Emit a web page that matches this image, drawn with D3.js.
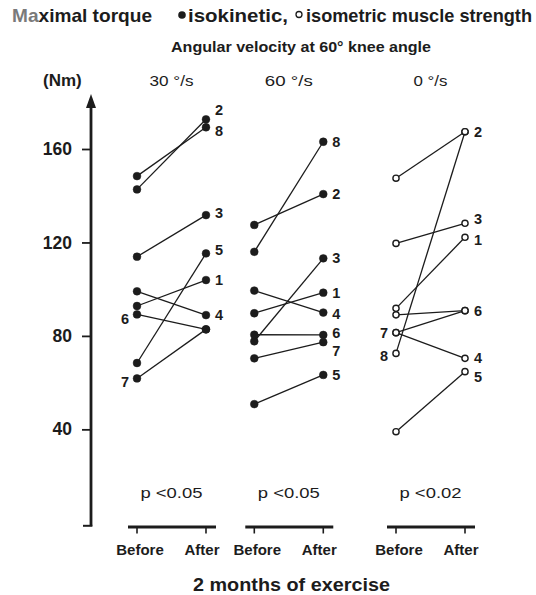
<!DOCTYPE html>
<html><head><meta charset="utf-8">
<script src="https://cdn.jsdelivr.net/npm/d3@7"></script>
<style>
body{margin:0;background:#fff;}
text{font-family:"Liberation Sans",Arial,Helvetica,sans-serif;fill:#1c1c1c;}
</style>
</head><body>
<svg id="chart" width="536" height="595"></svg>
<script>
// ---------- data ----------
const subjects = [1, 2, 3, 4, 5, 6, 7, 8];
const panelTitles = ["30 °/s", "60 °/s", "0 °/s"];
const pValues = ["p <0.05", "p <0.05", "p <0.02"];
const phases = ["Before", "After"];
const before30 = [92.8, 142.7, 113.9, 99.1, 68.4, 89.2, 61.8, 148.4];
const after30  = [103.9, 172.7, 131.7, 88.9, 115.3, 82.8, 82.8, 169.3];
const before60 = [89.7, 127.5, 77.7, 99.4, 50.8, 80.5, 70.4, 116.0];
const after60  = [98.5, 140.7, 113.2, 90.0, 63.3, 80.4, 77.3, 163.1];
const before0  = [91.8, 147.5, 119.6, 81.4, 39.0, 89.0, 81.4, 72.5];
const after0   = [122.2, 167.4, 128.2, 70.4, 64.7, 90.8, 90.8, 167.4];
const markerKinds = ["filled", "filled", "open"];
const beforeSideLabels = [[6, 7], [], [7, 8]];
const yTicks = [40, 80, 120, 160];

const panelData = [
  {before: before30, after: after30},
  {before: before60, after: after60},
  {before: before0,  after: after0}
];

// ---------- layout ----------
const svg = d3.select("#chart");
const panelSlot = [0, 1.7, 3.754];
const x = d3.scaleLinear().domain([0, 4.754]).range([137, 465]);
const y = d3.scaleLinear().domain([0, 160]).range([522.8, 149]);
const ink = "#1c1c1c";
const labelNudge = {"0-2": -9, "0-8": 4, "0-3": -2, "0-5": -3, "0-6": 5, "0-7": 4,
                    "1-7": 9, "1-6": -2, "1-4": 1,
                    "2-3": -4, "2-1": 3, "2-5": 5, "2-8": 3};

// ---------- header ----------
const title = svg.append("text").attr("x", 12).attr("y", 21.5)
  .attr("font-size", 18.5).attr("font-weight", "bold")
  .attr("textLength", 140).attr("lengthAdjust", "spacingAndGlyphs");
title.append("tspan").attr("fill", "#7a7a7a").style("fill", "#7a7a7a").text("Ma");
title.append("tspan").text("ximal torque");

svg.append("circle").attr("cx", 182).attr("cy", 15).attr("r", 3.8).attr("fill", ink);
svg.append("text").attr("x", 188).attr("y", 21.5).attr("font-size", 18.5).attr("font-weight", "bold")
  .attr("textLength", 100).attr("lengthAdjust", "spacingAndGlyphs").text("isokinetic,");
svg.append("circle").attr("cx", 299).attr("cy", 14.5).attr("r", 3).attr("fill", "#fff")
  .attr("stroke", ink).attr("stroke-width", 1.3);
svg.append("text").attr("x", 306).attr("y", 21.5).attr("font-size", 18.5).attr("font-weight", "bold")
  .attr("textLength", 226).attr("lengthAdjust", "spacingAndGlyphs").text("isometric muscle strength");

svg.append("text").attr("x", 171).attr("y", 51.5).attr("font-size", 14.5).attr("font-weight", "bold")
  .attr("textLength", 260).attr("lengthAdjust", "spacingAndGlyphs")
  .text("Angular velocity at 60° knee angle");

svg.append("text").attr("x", 43).attr("y", 86).attr("font-size", 17).attr("font-weight", "bold")
  .text("(Nm)");

const titleWidths = [44, 48, 34];
panelTitles.forEach((t, i) => {
  const cx = (x(panelSlot[i]) + x(panelSlot[i] + 1)) / 2;
  svg.append("text").attr("x", cx - titleWidths[i] / 2).attr("y", 86)
    .attr("font-size", 14.5).attr("textLength", titleWidths[i])
    .attr("lengthAdjust", "spacingAndGlyphs").text(t);
});

// ---------- y axis ----------
const axisG = svg.append("g").attr("transform", "translate(91,0)")
  .call(d3.axisLeft(y).tickValues(yTicks).tickSize(9).tickPadding(10));
axisG.select(".domain").remove();
axisG.selectAll(".tick line").attr("stroke", ink).attr("stroke-width", 1.8);
axisG.selectAll(".tick text").attr("font-size", 17.5).attr("font-weight", "bold")
  .attr("fill", ink).attr("font-family", "Liberation Sans, Arial, sans-serif");

axisG.append("line").attr("x1", 0).attr("x2", 0).attr("y1", y(0) + 3).attr("y2", 104)
  .attr("stroke", ink).attr("stroke-width", 2.8);
axisG.append("path").attr("d", "M0,94 L-5,108 L5,108 Z").attr("fill", ink);
axisG.append("line").attr("x1", -8).attr("x2", 1.4).attr("y1", y(0) + 3).attr("y2", y(0) + 3)
  .attr("stroke", ink).attr("stroke-width", 2);

// ---------- panels ----------
panelData.forEach((pd, p) => {
  const xb = x(panelSlot[p]), xa = x(panelSlot[p] + 1);
  const g = svg.append("g");
  const rows = subjects.map((s, i) => ({s, b: pd.before[i], a: pd.after[i]}));

  g.selectAll("line.conn").data(rows).enter().append("line")
    .attr("x1", xb).attr("x2", xa)
    .attr("y1", d => y(d.b)).attr("y2", d => y(d.a))
    .attr("stroke", ink).attr("stroke-width", 1.3);

  const pts = rows.flatMap(d => [{x: xb, v: d.b}, {x: xa, v: d.a}]);
  const filled = markerKinds[p] === "filled";
  g.selectAll("circle").data(pts).enter().append("circle")
    .attr("cx", d => d.x).attr("cy", d => y(d.v))
    .attr("r", filled ? 3.9 : 3.1)
    .attr("fill", filled ? ink : "#fff")
    .attr("stroke", ink).attr("stroke-width", filled ? 0.5 : 1.4);

  rows.forEach(d => {
    const onBefore = beforeSideLabels[p].includes(d.s);
    const nudge = labelNudge[p + "-" + d.s] || 0;
    g.append("text")
      .attr("x", onBefore ? xb - 8 : xa + 9)
      .attr("y", y(onBefore ? d.b : d.a) + 5 + nudge)
      .attr("text-anchor", onBefore ? "end" : "start")
      .attr("font-size", 14.5).attr("font-weight", "bold")
      .text(d.s);
  });

  // p-value
  svg.append("text").attr("x", (xb + xa) / 2 - 31).attr("y", 497.5)
    .attr("font-size", 15).attr("textLength", 62).attr("lengthAdjust", "spacingAndGlyphs")
    .text(pValues[p]);

  // bracket
  svg.append("line").attr("x1", xb - 9).attr("x2", xa + 10).attr("y1", 527).attr("y2", 527)
    .attr("stroke", ink).attr("stroke-width", 3);
  [xb, xa].forEach(xx => svg.append("line").attr("x1", xx).attr("x2", xx)
    .attr("y1", 527).attr("y2", 533.5).attr("stroke", ink).attr("stroke-width", 1.6));

  phases.forEach((ph, k) => {
    svg.append("text").attr("x", k === 0 ? xb + 3 : xa - 4).attr("y", 555)
      .attr("text-anchor", "middle").attr("font-size", 15).attr("font-weight", "bold")
      .text(ph);
  });
});

svg.append("text").attr("x", 193).attr("y", 591).attr("font-size", 18).attr("font-weight", "bold")
  .attr("textLength", 197).attr("lengthAdjust", "spacingAndGlyphs")
  .text("2 months of exercise");
</script>
</body></html>
